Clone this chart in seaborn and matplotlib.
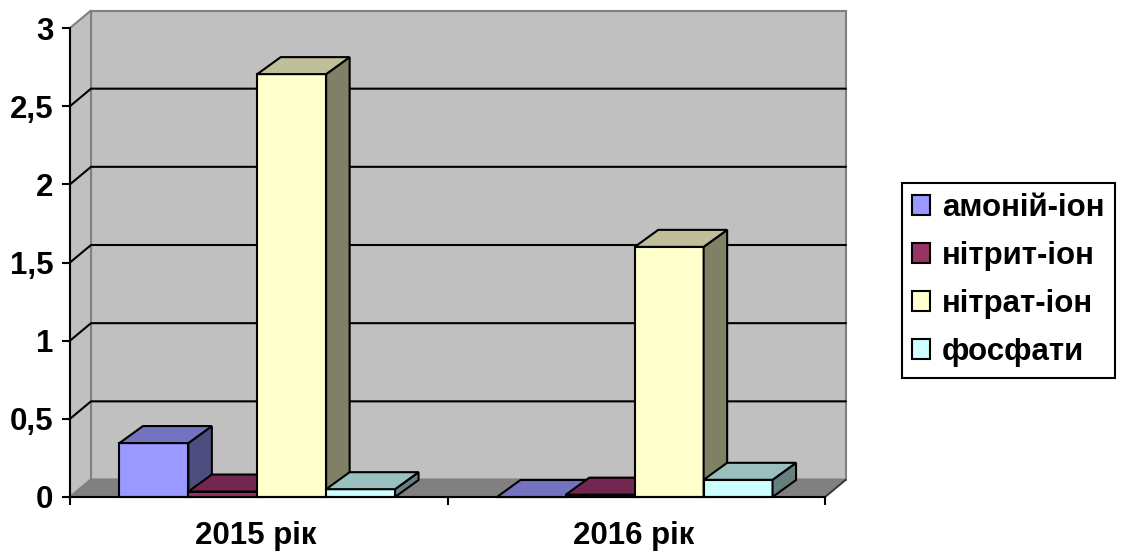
import matplotlib
matplotlib.use('Agg')
import matplotlib.pyplot as plt
import pandas as pd
import seaborn as sns

# Values
years = ['2015 рік', '2016 рік']
ions = ['амоній-іон', 'нітрит-іон', 'нітрат-іон', 'фосфати']
amonii = [0.345, 0.0]
nitryt = [0.035, 0.015]
nitrat = [2.705, 1.6]
fosfaty = [0.05, 0.11]
y_ticks = [0, 0.5, 1, 1.5, 2, 2.5, 3]
y_labels = ['0', '0,5', '1', '1,5', '2', '2,5', '3']

front_colors = ['#9999FF', '#993366', '#FFFFCC', '#CCFFFF']
top_colors = ['#7373BF', '#732650', '#BFBF99', '#99BFBF']
side_colors = ['#4D4D80', '#4D1A33', '#808066', '#668080']

df = pd.DataFrame({
    'year': years * 4,
    'ion': [i for i in ions for _ in years],
    'value': amonii + nitryt + nitrat + fosfaty,
})

sns.set_theme(style='white')
plt.rcParams['font.family'] = ['Liberation Sans', 'DejaVu Sans']
plt.rcParams['font.weight'] = 'bold'

W, H = 1122, 552
LW = 1.5
FONT = 22.5
fig = plt.figure(figsize=(W / 100, H / 100), dpi=100)
ax = fig.add_axes([70 / W, (H - 497) / H, 755 / W, 469 / H])

sns.barplot(data=df, x='year', y='value', hue='ion', hue_order=ions,
            palette=front_colors, width=0.73, gap=0, saturation=1,
            edgecolor='black', linewidth=LW, ax=ax)
ax.set_xlim(-0.5, 1.5)
ax.set_ylim(0, 3)
ax.set_xlabel('')
ax.set_ylabel('')
ax.patch.set_visible(False)

# pixel offsets -> data units, for the fake 3D depth
px_x = 2 / 755
px_y = 3 / 469
wall_dx, wall_dy = 21 * px_x, 17.5 * px_y
bar_dx, bar_dy = 23.5 * px_x, 17 * px_y

x0, x1 = ax.get_xlim()
# back wall, left wall, floor
ax.fill([x0 + wall_dx, x1 + wall_dx, x1 + wall_dx, x0 + wall_dx],
        [wall_dy, wall_dy, 3 + wall_dy, 3 + wall_dy],
        fc='#C0C0C0', ec='#808080', lw=LW, zorder=0.5, clip_on=False)
ax.fill([x0, x0 + wall_dx, x0 + wall_dx, x0], [0, wall_dy, 3 + wall_dy, 3],
        fc='#C0C0C0', ec='#808080', lw=LW, zorder=0.5, clip_on=False)
ax.fill([x0, x1, x1 + wall_dx, x0 + wall_dx], [0, 0, wall_dy, wall_dy],
        fc='#808080', ec='#808080', lw=LW, zorder=0.6, clip_on=False)
ax.plot([x1, x1 + wall_dx], [0, wall_dy], color='#333333', lw=1.2, zorder=0.7, clip_on=False)

# gridlines run along the left wall and then the back wall
for t in y_ticks[1:-1]:
    ax.plot([x0, x0 + wall_dx, x1 + wall_dx], [t, t + wall_dy, t + wall_dy],
            color='black', lw=LW, zorder=0.8, clip_on=False)

# bars left to right, each one paints over the previous one's depth
bars = []
for color_i, container in enumerate(ax.containers):
    for patch in container:
        bars.append((patch, color_i))
bars.sort(key=lambda b: b[0].get_x())

for z, (patch, color_i) in enumerate(bars):
    zorder = 3 + z
    patch.set_zorder(zorder)
    patch.set_clip_on(False)
    # the original sits a touch left of the category centre
    patch.set_x(patch.get_x() - 1.5 * px_x)
    left = patch.get_x()
    right = left + patch.get_width()
    top = patch.get_height()
    ax.fill([right, right + bar_dx, right + bar_dx, right],
            [0, bar_dy, top + bar_dy, top],
            fc=side_colors[color_i], ec='black', lw=LW, zorder=zorder, clip_on=False)
    ax.fill([left, left + bar_dx, right + bar_dx, right],
            [top, top + bar_dy, top + bar_dy, top],
            fc=top_colors[color_i], ec='black', lw=LW, zorder=zorder, clip_on=False)

# axes
sns.despine(ax=ax)
for side in ['left', 'bottom']:
    ax.spines[side].set_color('black')
    ax.spines[side].set_linewidth(LW)
    ax.spines[side].set_zorder(20)

ax.set_yticks(y_ticks)
ax.set_yticklabels(y_labels)
ax.tick_params(axis='y', left=True, length=5.5, width=LW, color='black', pad=6.5,
               labelsize=FONT, labelcolor='black')
# year labels are about 3 px left of the category centres
ax.set_xticks([0 - 3 * px_x, 1 - 3 * px_x])
ax.set_xticklabels(years)
ax.set_xticks([-0.5, 0.5, 1.5], minor=True)
ax.tick_params(axis='x', which='major', bottom=False, pad=11, labelsize=FONT, labelcolor='black')
ax.tick_params(axis='x', which='minor', bottom=True, length=5.5, width=LW, color='black')

# legend
sns.move_legend(ax, loc='center left', bbox_to_anchor=(902 / W, (H - 280) / H),
                bbox_transform=fig.transFigure, title=None, frameon=True,
                fancybox=False, framealpha=1, edgecolor='black', fontsize=FONT,
                handlelength=0.58, handleheight=0.58, handletextpad=0.36,
                labelspacing=0.58, borderpad=0.33, borderaxespad=0)
leg = ax.get_legend()
leg.get_frame().set_linewidth(LW)
leg.set_zorder(30)
for text in leg.get_texts():
    text.set_color('black')

fig.savefig('out.png', dpi=100)
